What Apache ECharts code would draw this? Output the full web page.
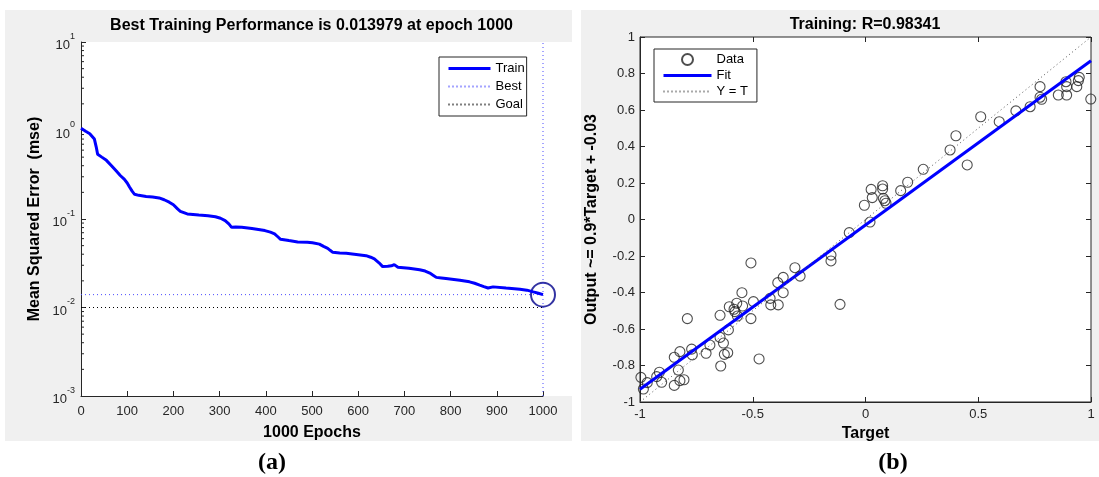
<!DOCTYPE html>
<html><head><meta charset="utf-8">
<script src="https://cdn.jsdelivr.net/npm/echarts@6/dist/echarts.min.js"></script>
<style>html,body{margin:0;padding:0;background:#fff}#c{width:1099px;height:477px}</style>
</head><body><div id="c"></div>
<script>
// ---------- Panel (a): training performance ----------
const trainEpochs = [0,10,19,29,33,36,45,55,66,76,85,94,100,105,111,116,125,141,155,169,180,191,200,209,215,219,230,255,275,291,302,312,320,326,335,348,370,398,410,419,426,432,450,469,490,501,516,525,534,540,545,560,574,600,617,627,635,645,653,664,672,678,686,710,733,745,755,762,769,780,790,820,841,852,863,872,881,892,920,950,965,979,990,1000];
const trainMse = [1.06,0.98,0.92,0.80,0.65,0.54,0.50,0.46,0.40,0.35,0.31,0.28,0.255,0.23,0.205,0.19,0.185,0.18,0.177,0.173,0.165,0.155,0.145,0.13,0.122,0.117,0.114,0.111,0.109,0.106,0.102,0.096,0.088,0.0805,0.081,0.0805,0.078,0.074,0.071,0.068,0.063,0.059,0.057,0.055,0.0545,0.054,0.052,0.049,0.0466,0.044,0.042,0.0412,0.041,0.0395,0.0385,0.037,0.0354,0.032,0.029,0.0292,0.0296,0.0305,0.0285,0.0278,0.0267,0.0258,0.0245,0.0232,0.0219,0.0216,0.0213,0.0203,0.0195,0.0188,0.0179,0.0172,0.0166,0.0171,0.0166,0.0161,0.0157,0.0150,0.0145,0.013979];
const bestPerf = 0.013979;
const bestEpoch = 1000;
const goalPerf = 0.01;
const epochRange = [0, 1000];
const mseRange = [0.001, 10];
const minorBases = [2,3,4,5,6,7,8,9];
const minorDecades = [0.001, 0.01, 0.1, 1];

// ---------- Panel (b): regression ----------
const targets = [-0.996,-0.985,-0.968,-0.926,-0.914,-0.904,-0.848,-0.848,-0.830,-0.823,-0.823,-0.805,-0.790,-0.771,-0.768,-0.707,-0.690,-0.645,-0.645,-0.642,-0.630,-0.626,-0.611,-0.608,-0.604,-0.583,-0.579,-0.571,-0.568,-0.548,-0.545,-0.508,-0.508,-0.497,-0.472,-0.423,-0.420,-0.389,-0.387,-0.365,-0.365,-0.313,-0.290,-0.153,-0.153,-0.113,-0.072,-0.005,0.020,0.025,0.030,0.076,0.076,0.079,0.086,0.091,0.156,0.187,0.256,0.375,0.401,0.451,0.511,0.593,0.667,0.730,0.774,0.774,0.781,0.855,0.889,0.892,0.892,0.937,0.944,0.948,0.999];
const outputs = [-0.865,-0.929,-0.894,-0.861,-0.837,-0.892,-0.755,-0.909,-0.825,-0.724,-0.883,-0.878,-0.543,-0.710,-0.742,-0.733,-0.688,-0.525,-0.646,-0.803,-0.677,-0.739,-0.730,-0.605,-0.478,-0.492,-0.505,-0.459,-0.529,-0.401,-0.474,-0.238,-0.543,-0.450,-0.764,-0.432,-0.468,-0.346,-0.468,-0.317,-0.401,-0.264,-0.310,-0.195,-0.227,-0.465,-0.072,0.078,-0.014,0.165,0.120,0.185,0.167,0.116,0.103,0.089,0.158,0.204,0.275,0.381,0.459,0.299,0.563,0.536,0.595,0.618,0.728,0.670,0.659,0.682,0.755,0.728,0.682,0.728,0.761,0.779,0.660];
const fitX = [-1, 1];
const fitY = [-0.93, 0.87];
const identX = [-1, 1];
const identY = [-1, 1];
const regRange = [-1, 1];

const FONT = "'Liberation Sans', Arial, sans-serif";
const TXT = '#262626';

const minorVals = [];
minorDecades.forEach(d => minorBases.forEach(b => minorVals.push([0, +(b * d).toPrecision(3)])));

const chart = echarts.init(document.getElementById('c'), null, {renderer: 'canvas'});

const commonTick = {show: true, inside: true, length: 5, lineStyle: {color: TXT, width: 1}};
const labelStyle = {color: TXT, fontSize: 13, fontFamily: FONT};
const nameStyle = {color: '#000', fontSize: 16, fontWeight: 'bold', fontFamily: FONT};
const noSym = {opacity: 0};

const option = {
  animation: false,
  backgroundColor: '#fff',
  textStyle: {fontFamily: FONT},
  graphic: [
    {type: 'rect', z: -10, silent: true, shape: {x: 5, y: 10, width: 567, height: 431}, style: {fill: '#f0f0f0'}},
    {type: 'rect', z: -10, silent: true, shape: {x: 581, y: 10, width: 518, height: 431}, style: {fill: '#f0f0f0'}},
    {type: 'rect', z: -9, silent: true, shape: {x: 81, y: 42, width: 491, height: 354}, style: {fill: '#fff'}},
    {type: 'rect', z: -9, silent: true, shape: {x: 640, y: 37, width: 451, height: 365}, style: {fill: '#fff'}},
    {type: 'text', silent: true, x: 311.5, y: 26, style: {text: 'Best Training Performance is 0.013979 at epoch 1000', font: 'bold 16px ' + FONT, fill: '#000', align: 'center', verticalAlign: 'middle'}},
    {type: 'text', silent: true, x: 865, y: 25, style: {text: 'Training: R=0.98341', font: 'bold 16px ' + FONT, fill: '#000', align: 'center', verticalAlign: 'middle'}},
    {type: 'text', silent: true, x: 272, y: 463, style: {text: '(a)', font: 'bold 24px "Liberation Serif", "Times New Roman", serif', fill: '#000', align: 'center', verticalAlign: 'middle'}},
    {type: 'text', silent: true, x: 893, y: 463, style: {text: '(b)', font: 'bold 24px "Liberation Serif", "Times New Roman", serif', fill: '#000', align: 'center', verticalAlign: 'middle'}}
  ],
  grid: [
    {left: 81, top: 42, width: 462, height: 354, show: false, containLabel: false},
    {left: 640, top: 37, width: 451, height: 365, show: true, backgroundColor: 'transparent', borderColor: TXT, borderWidth: 1, containLabel: false}
  ],
  legend: [
    {
      data: [
        {name: 'Train', itemStyle: noSym, lineStyle: {width: 3}},
        {name: 'Best', itemStyle: noSym},
        {name: 'Goal', itemStyle: noSym}
      ],
      orient: 'vertical', left: 439, top: 57,
      backgroundColor: '#fff', borderColor: TXT, borderWidth: 1, borderRadius: 0,
      padding: [5, 2, 5, 8], itemGap: 5, itemWidth: 42, itemHeight: 12,
      textStyle: {color: '#000', fontSize: 13, fontFamily: FONT}, selectedMode: false
    },
    {
      data: [
        {name: 'Data'},
        {name: 'Fit', itemStyle: noSym, lineStyle: {width: 3}},
        {name: 'Y = T', itemStyle: noSym}
      ],
      orient: 'vertical', left: 654, top: 49,
      backgroundColor: '#fff', borderColor: TXT, borderWidth: 1, borderRadius: 0,
      padding: [4, 9, 4, 8], itemGap: 3, itemWidth: 48, itemHeight: 11,
      textStyle: {color: '#000', fontSize: 13, fontFamily: FONT}, selectedMode: false
    }
  ],
  xAxis: [
    {
      type: 'value', gridIndex: 0, min: epochRange[0], max: epochRange[1], interval: 100,
      name: '1000 Epochs', nameLocation: 'middle', nameGap: 29, nameTextStyle: nameStyle,
      axisLine: {show: true, onZero: false, lineStyle: {color: TXT, width: 1}},
      axisTick: commonTick, splitLine: {show: false},
      axisLabel: Object.assign({margin: 9, formatter: v => String(v)}, labelStyle)
    },
    {
      type: 'value', gridIndex: 1, min: regRange[0], max: regRange[1], interval: 0.5,
      name: 'Target', nameLocation: 'middle', nameGap: 21, nameTextStyle: nameStyle,
      axisLine: {show: true, onZero: false, lineStyle: {color: TXT, width: 1}},
      axisTick: commonTick, splitLine: {show: false},
      axisLabel: Object.assign({margin: 6, formatter: v => String(+v.toFixed(1))}, labelStyle)
    },
    {
      type: 'value', gridIndex: 1, position: 'top', min: regRange[0], max: regRange[1], interval: 0.5,
      axisLine: {show: false, onZero: false}, axisTick: commonTick, splitLine: {show: false}, axisLabel: {show: false}
    }
  ],
  yAxis: [
    {
      type: 'log', logBase: 10, gridIndex: 0, min: mseRange[0], max: mseRange[1],
      name: 'Mean Squared Error  (mse)', nameLocation: 'middle', nameGap: 38, nameTextStyle: nameStyle,
      axisLine: {show: true, onZero: false, lineStyle: {color: TXT, width: 1}},
      axisTick: commonTick, splitLine: {show: false}, minorTick: {show: false},
      axisLabel: {
        margin: 6, color: TXT, fontFamily: FONT,
        formatter: v => '{b|10}{s|' + Math.round(Math.log10(v)) + '}',
        rich: {
          b: {fontSize: 13, color: TXT, fontFamily: FONT, verticalAlign: 'bottom', lineHeight: 20},
          s: {fontSize: 9, color: TXT, fontFamily: FONT, verticalAlign: 'top', lineHeight: 20}
        }
      }
    },
    {
      type: 'value', gridIndex: 1, min: regRange[0], max: regRange[1], interval: 0.2,
      name: 'Output ~= 0.9*Target + -0.03', nameLocation: 'middle', nameGap: 40, nameTextStyle: nameStyle,
      axisLine: {show: true, onZero: false, lineStyle: {color: TXT, width: 1}},
      axisTick: commonTick, splitLine: {show: false},
      axisLabel: Object.assign({margin: 5, formatter: v => String(+v.toFixed(1))}, labelStyle)
    },
    {
      type: 'value', gridIndex: 1, position: 'right', min: regRange[0], max: regRange[1], interval: 0.2,
      axisLine: {show: false, onZero: false}, axisTick: commonTick, splitLine: {show: false}, axisLabel: {show: false}
    }
  ],
  series: [
    {
      name: 'MinorTicks', type: 'custom', xAxisIndex: 0, yAxisIndex: 0, silent: true, clip: false,
      data: minorVals,
      renderItem: (params, api) => {
        const p = api.coord([api.value(0), api.value(1)]);
        return {type: 'line', shape: {x1: p[0], y1: p[1], x2: p[0] + 3, y2: p[1]}, style: {stroke: TXT, lineWidth: 1}};
      }
    },
    {
      name: 'Goal', type: 'line', xAxisIndex: 0, yAxisIndex: 0, symbol: 'none', clip: false,
      data: [[epochRange[0], goalPerf], [epochRange[1], goalPerf]],
      lineStyle: {color: '#000', width: 1, type: [1, 3]}, itemStyle: {color: '#000'}
    },
    {
      name: 'Best', type: 'line', xAxisIndex: 0, yAxisIndex: 0, symbol: 'none', clip: false,
      data: [[epochRange[0], bestPerf], [bestEpoch, bestPerf]],
      lineStyle: {color: '#4a4aff', width: 1, type: [1, 3]}, itemStyle: {color: '#4a4aff'}
    },
    {
      name: 'Best', type: 'line', xAxisIndex: 0, yAxisIndex: 0, symbol: 'none', clip: false,
      data: [[bestEpoch, mseRange[0]], [bestEpoch, mseRange[1]]],
      lineStyle: {color: '#4a4aff', width: 1, type: [1, 3]}, itemStyle: {color: '#4a4aff'}
    },
    {
      name: 'Train', type: 'line', xAxisIndex: 0, yAxisIndex: 0, symbol: 'none', clip: false,
      data: trainEpochs.map((e, i) => [e, trainMse[i]]),
      lineStyle: {color: '#0000ff', width: 3}, itemStyle: {color: '#0000ff'}
    },
    {
      name: 'BestPoint', type: 'scatter', xAxisIndex: 0, yAxisIndex: 0, clip: false, silent: true,
      data: [[bestEpoch, bestPerf]], symbol: 'circle', symbolSize: 24,
      itemStyle: {color: 'rgba(0,0,0,0)', borderColor: '#00008b', borderWidth: 2}
    },
    {
      name: 'Data', type: 'scatter', xAxisIndex: 1, yAxisIndex: 1, clip: false,
      data: targets.map((t, i) => [t, outputs[i]]), symbol: 'circle', symbolSize: 10,
      itemStyle: {color: 'rgba(0,0,0,0)', borderColor: '#222', borderWidth: 1.1}
    },
    {
      name: 'Fit', type: 'line', xAxisIndex: 1, yAxisIndex: 1, symbol: 'none', clip: false,
      data: fitX.map((x, i) => [x, fitY[i]]),
      lineStyle: {color: '#0000ff', width: 3}, itemStyle: {color: '#0000ff'}
    },
    {
      name: 'Y = T', type: 'line', xAxisIndex: 1, yAxisIndex: 1, symbol: 'none', clip: false,
      data: identX.map((x, i) => [x, identY[i]]),
      lineStyle: {color: '#555', width: 1, type: [1, 3]}, itemStyle: {color: '#555'}
    }
  ]
};
chart.setOption(option);
</script>
</body></html>
